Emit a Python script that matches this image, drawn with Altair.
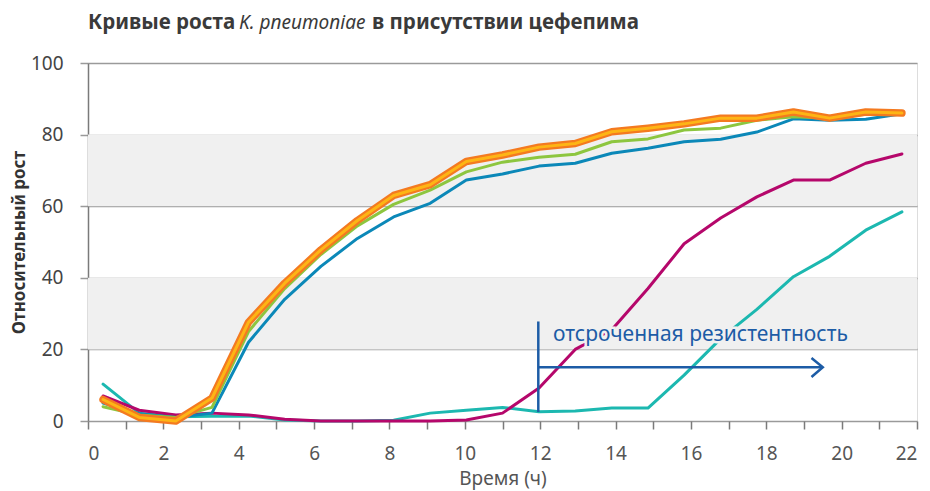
import altair as alt
import pandas as pd

# ---------------- data ----------------
times = [0.4, 1.36, 2.33, 3.29, 4.26, 5.22, 6.18, 7.15, 8.11, 9.08, 10.04, 11.0,
         11.97, 12.93, 13.9, 14.86, 15.82, 16.79, 17.75, 18.72, 19.68, 20.64, 21.6]
orange = [6, 1, 0, 6.4, 27.6, 38.5, 47.8, 56, 63, 66, 72.5, 74.3,
          76.5, 77.5, 80.8, 81.8, 83, 84.6, 84.6, 86.3, 84.6, 86.3, 86]
green = [4, 1.7, 1, 3.8, 25, 37, 46.5, 54.5, 60.5, 64.5, 69.6, 72.3,
         73.7, 74.5, 78, 78.8, 81.3, 81.8, 84, 85, 84.6, 85.7, 86]
blue = [5, 2, 1, 2.2, 22, 34, 43.2, 51, 57, 60.8, 67.3, 69,
        71.2, 72, 74.8, 76.2, 78, 78.7, 80.7, 84.4, 84, 84.3, 85.8]
magenta = [7, 3, 1.7, 2.2, 1.7, 0.5, 0, 0, 0, 0, 0.3, 2.2,
           9.2, 20, 25.5, 37, 49.5, 56.7, 62.6, 67.3, 67.3, 72, 74.6]
teal = [10.3, 2.2, 1.2, 1.3, 1.4, 0.3, 0, 0, 0.2, 2.2, 3, 3.8,
        2.6, 2.8, 3.6, 3.6, 12.8, 23, 31.2, 40.3, 46, 53.3, 58.4]

band_lo = [20, 60]
band_hi = [40, 80]

x_ticks = list(range(0, 23))
y_ticks = [0, 20, 40, 60, 80, 100]

# annotation (delayed resistance)
ann_vert_x = [11.95, 11.95]
ann_vert_y = [2.5, 27.8]
ann_arrow_x = [11.95, 19.5]
ann_arrow_y = [15, 15]
ann_head_x = [19.2, 19.5, 19.2]
ann_head_y = [17.6, 15, 12.3]
ann_text = "отсроченная резистентность"
ann_text_x = [12.34]
ann_text_y = [22.4]

title_parts = ["Кривые роста", "K. pneumoniae", "в присутствии цефепима"]

FONT = "Noto Sans"
ANN = "#1d5ca6"

def series_df(vals):
    return pd.DataFrame({"t": times, "v": vals})

xs = alt.Scale(domain=[0, 22], nice=False, zero=False)
ys = alt.Scale(domain=[0, 100], nice=False)

x_axis = alt.Axis(values=x_ticks,
                  labelExpr="datum.value % 2 === 0 ? datum.label : ''",
                  grid=False, domain=False, tickSize=8, tickColor="#7a7a7a",
                  tickWidth=1.5, labelFontSize=19, labelColor="#555555",
                  labelFont=FONT, labelPadding=15, title="Время (ч)",
                  titleFont=FONT, titleFontSize=19, titleFontWeight="normal",
                  titleColor="#555555", titlePadding=6)
y_axis = alt.Axis(values=y_ticks, grid=True, gridColor="#9a9a9a", gridWidth=1.5,
                  domain=True, domainColor="#7a7a7a", domainWidth=1.5,
                  tickSize=8, tickColor="#9a9a9a", tickWidth=1.5,
                  labelFontSize=19, labelColor="#444444", labelFont=FONT,
                  labelPadding=17, title="Относительный рост", titleFont=FONT,
                  titleFontSize=17, titleFontWeight="bold", titleColor="#333333",
                  titlePadding=2)

X = lambda f: alt.X(f, scale=xs, axis=x_axis)
Y = lambda f: alt.Y(f, scale=ys, axis=y_axis)

bands = alt.Chart(pd.DataFrame({"lo": band_lo, "hi": band_hi, "a": [0, 0], "b": [22, 22]})).mark_rect(
    color="#f0f0f0").encode(
    x=X("a:Q"), x2="b:Q", y=Y("lo:Q"), y2="hi:Q",
)

def line(vals, color, width):
    return alt.Chart(series_df(vals)).mark_line(
        color=color, strokeWidth=width, strokeCap="round", strokeJoin="round").encode(
        x=X("t:Q"), y=Y("v:Q"),
    )

layers = [
    bands,
    line(teal, "#1cb8b0", 3),
    line(magenta, "#b5076b", 3),
    line(blue, "#0b88b8", 3),
    line(green, "#8dc63f", 3),
    line(orange, "#f47a20", 7.5),
    line(orange, "#fdb515", 3),
]

def pts(xv, yv):
    return pd.DataFrame({"x": xv, "y": yv, "o": list(range(len(xv)))})

def ann_line(xv, yv):
    return alt.Chart(pts(xv, yv)).mark_line(color=ANN, strokeWidth=2.5).encode(
        x=X("x:Q"), y=Y("y:Q"), order="o:Q",
    )

layers += [ann_line(ann_vert_x, ann_vert_y), ann_line(ann_arrow_x, ann_arrow_y),
           ann_line(ann_head_x, ann_head_y)]

tdf = pd.DataFrame({"x": ann_text_x, "y": ann_text_y, "s": [ann_text]})
halo = alt.Chart(tdf).mark_text(align="left", baseline="alphabetic", font=FONT,
                                fontSize=21, fill="#f0f0f0", stroke="#f0f0f0",
                                strokeWidth=5).encode(
    x=X("x:Q"), y=Y("y:Q"), text="s:N")
txt = alt.Chart(tdf).mark_text(align="left", baseline="alphabetic", font=FONT,
                               fontSize=21, color=ANN).encode(
    x=X("x:Q"), y=Y("y:Q"), text="s:N")
layers += [halo, txt]

one = pd.DataFrame({"k": [0]})
TC = "#3a3a3a"
t1 = alt.Chart(one).mark_text(text=title_parts[0], align="left", baseline="middle",
                              font=FONT, fontSize=20.5, fontWeight="bold", color=TC).encode(
    x=alt.value(0), y=alt.value(-40))
t2 = alt.Chart(one).mark_text(text=title_parts[1], align="left", baseline="middle",
                              font=FONT, fontSize=19, fontStyle="italic", fontWeight="normal",
                              color=TC).encode(
    x=alt.value(151), y=alt.value(-40))
t3 = alt.Chart(one).mark_text(text=title_parts[2], align="left", baseline="middle",
                              font=FONT, fontSize=20.5, fontWeight="bold", color=TC).encode(
    x=alt.value(284), y=alt.value(-40))
layers += [t1, t2, t3]

chart = alt.layer(*layers).properties(
    width=829, height=358,
    autosize=alt.AutoSizeParams(type="none"),
    padding={"left": 80, "top": 55, "right": 5, "bottom": 74},
).configure_view(stroke=None).configure(background="white")

chart.save("out.html", embed_options={"renderer": "svg", "actions": False})
